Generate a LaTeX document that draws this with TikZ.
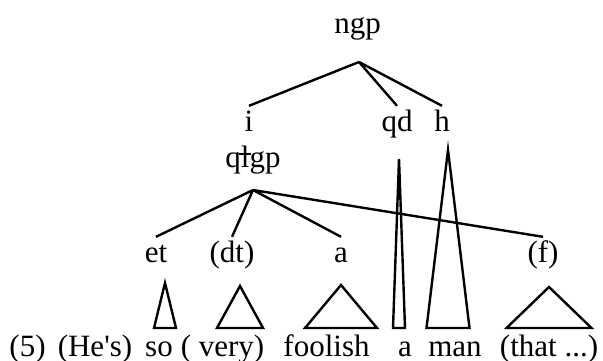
\documentclass[tikz,border=0pt]{standalone}
\usepackage{fontspec}
\setmainfont{Liberation Serif}
\usetikzlibrary{positioning}

% triangle roof: apex x, apex y, half base width (base line fixed)
\newcommand{\roof}[3]{\draw (#1, #2) -- (#1-#3, 328) -- (#1+#3, 328) -- cycle;}

\begin{document}
\begin{tikzpicture}[x=0.5pt, y=-0.5pt, line width=1.2pt,
    every node/.style={font=\fontsize{15.5}{18}\selectfont},
    lbl/.style={anchor=base, inner sep=1pt, text height=11pt, text depth=3pt}]
    \useasboundingbox (0, 0) rectangle (603, 360);

    \node[lbl] (ngp) at (357.5, 33) {ngp};
    \coordinate (top) at (359, 62);
    \node[lbl] (i) at (249, 131) {i};
    \node[lbl] (qd) at (397, 131) {qd};
    \node[lbl] (h) at (442, 131) {h};
    \node[lbl] (qlgp) at (253, 167) {q\makebox[0pt][l]{\kern-0.06em\rule[0.38em]{0.4em}{0.065em}}lgp};
    \coordinate (mid) at (253, 190);

    \node[lbl] (et) at (156, 262) {et};
    \node[lbl] (dt) at (232, 262) {(dt)};
    \node[lbl] (a) at (341, 262) {a};
    \node[lbl] (f) at (543, 262) {(f)};

    \draw
    (top) -- (i.north)
    (top) -- (qd.north)
    (top) -- (h.north)
    (mid) -- (et.north)
    (mid) -- (dt.north)
    (mid) -- (a.north)
    (mid) -- (f.north);

    \roof{165}{283}{11}
    \roof{240}{286}{23}
    \roof{341}{285}{36}
    \roof{399}{159}{6}
    \roof{448}{150}{21.5}
    \roof{549}{287}{42.5}

    % bottom line of words
    \node[lbl] (ex) at (27.5, 356) {(5)};
    \node[lbl] (hes) at (95, 356) {(He\textquotesingle s)};
    \node[lbl] (so) at (159, 356) {so};
    \node[lbl] (very) at (222.5, 356) {( very)};
    \node[lbl] (foolish) at (326.5, 356) {foolish};
    \node[lbl] (art) at (405, 356) {a};
    \node[lbl] (man) at (455, 356) {man};
    \node[lbl] (that) at (549, 356) {(that ...)};
\end{tikzpicture}
\end{document}
